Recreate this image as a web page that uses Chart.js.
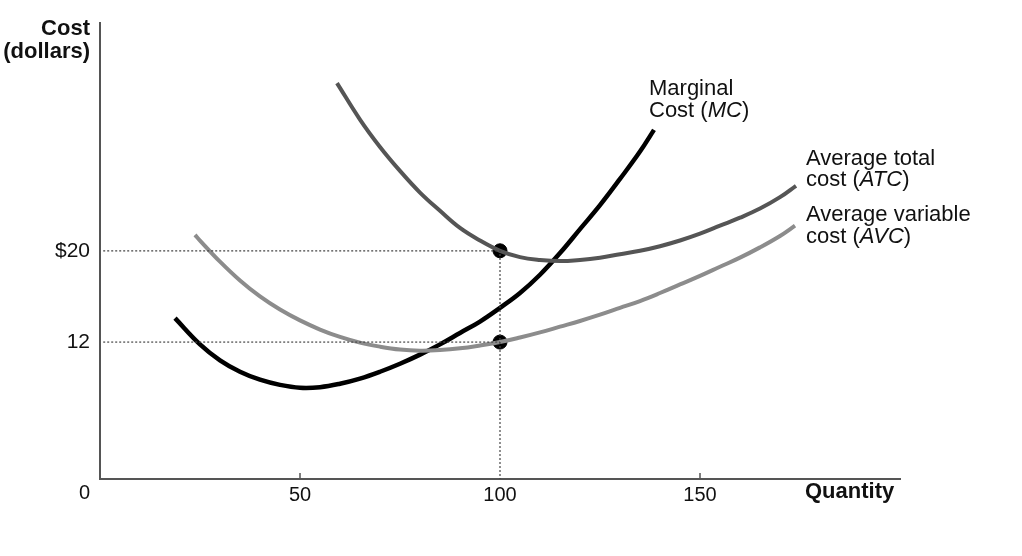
<!DOCTYPE html>
<html>
<head>
<meta charset="utf-8">
<script src="https://cdn.jsdelivr.net/npm/chart.js@4"></script>
<style>
  html, body { margin: 0; padding: 0; background: #fff; }
  #wrap { width: 1022px; height: 556px; }
</style>
</head>
<body>
<div id="wrap"><canvas id="costChart"></canvas></div>
<script>
// Cost curves (quantity, dollars)
const mcQuantity  = [18.75, 25, 30, 35, 40, 45, 50, 55, 60, 65, 70, 75, 80, 85, 90, 95, 100, 105, 110, 115, 120, 125, 130, 135, 138.5];
const mcCost      = [14.1, 11.8, 10.4, 9.4, 8.7, 8.25, 8.0, 8.05, 8.35, 8.8, 9.4, 10.1, 10.9, 11.8, 12.8, 13.8, 15.0, 16.3, 17.9, 19.8, 21.9, 24.0, 26.3, 28.7, 30.6];

const atcQuantity = [59.25, 65, 70, 75, 80, 85, 90, 95, 100, 105, 110, 115, 120, 125, 130, 135, 140, 145, 150, 155, 160, 165, 170, 174];
const atcCost     = [34.7, 31.5, 29.1, 27.0, 25.1, 23.5, 22.0, 20.9, 20.0, 19.45, 19.2, 19.1, 19.2, 19.4, 19.7, 20.0, 20.4, 20.9, 21.5, 22.2, 22.9, 23.7, 24.7, 25.7];

const avcQuantity = [23.75, 25, 30, 35, 40, 45, 50, 55, 60, 65, 70, 75, 80, 85, 90, 95, 100, 105, 110, 115, 120, 125, 130, 135, 140, 145, 150, 155, 160, 165, 170, 173.75];
const avcCost     = [21.4, 20.9, 19.05, 17.4, 16.0, 14.85, 13.9, 13.1, 12.45, 11.95, 11.6, 11.35, 11.25, 11.3, 11.45, 11.7, 12.0, 12.4, 12.85, 13.35, 13.85, 14.4, 15.0, 15.6, 16.3, 17.05, 17.8, 18.6, 19.4, 20.3, 21.3, 22.2];

const xTicks = [50, 100, 150];
const yTicks = [12, 20];
const marked = [[100, 20], [100, 12]];

const FONT = '"Liberation Sans", Arial, Helvetica, sans-serif';
const toPoints = (xs, ys) => xs.map((x, i) => ({ x: x, y: ys[i] }));

// axis titles, curve labels, the corner "0" and the small inside tick marks
const annotations = {
    id: 'annotations',
    afterDraw(chart) {
        const ctx = chart.ctx;
        const xs = chart.scales.x, ys = chart.scales.y;
        ctx.save();
        ctx.fillStyle = '#111';
        ctx.textBaseline = 'alphabetic';

        // tick marks pointing up from the x axis
        ctx.strokeStyle = '#555';
        ctx.lineWidth = 1.5;
        [50, 150].forEach(v => {
            const px = xs.getPixelForValue(v);
            ctx.beginPath();
            ctx.moveTo(px, ys.bottom);
            ctx.lineTo(px, ys.bottom - 6);
            ctx.stroke();
        });

        ctx.font = '20px ' + FONT;
        ctx.textAlign = 'right';
        ctx.fillText('0', 90, 499);

        ctx.font = 'bold 22px ' + FONT;
        ctx.fillText('Cost', 90, 35);
        ctx.fillText('(dollars)', 90, 58);
        ctx.textAlign = 'left';
        ctx.fillText('Quantity', 805, 498);

        // mixed normal / italic label lines
        const line = (parts, x, y) => {
            parts.forEach(p => {
                ctx.font = (p[1] ? 'italic ' : '') + '22px ' + FONT;
                ctx.fillText(p[0], x, y);
                x += ctx.measureText(p[0]).width;
            });
        };
        line([['Marginal']], 649, 95);
        line([['Cost ('], ['MC', true], [')']], 649, 117);
        line([['Average total']], 806, 165);
        line([['cost ('], ['ATC', true], [')']], 806, 186);
        line([['Average variable']], 806, 221);
        line([['cost ('], ['AVC', true], [')']], 806, 243);
        ctx.restore();
    }
};

new Chart(document.getElementById('costChart'), {
    type: 'line',
    data: {
        datasets: [
            {
                label: 'guide 20',
                data: [{ x: 0.8, y: 20 }, { x: 100, y: 20 }, { x: 100, y: 0 }],
                borderColor: '#444',
                borderWidth: 1.2,
                borderDash: [2, 2],
                pointRadius: 0,
                tension: 0
            },
            {
                label: 'guide 12',
                data: [{ x: 0.8, y: 12 }, { x: 100, y: 12 }],
                borderColor: '#444',
                borderWidth: 1.2,
                borderDash: [2, 2],
                pointRadius: 0,
                tension: 0
            },
            {
                label: 'AVC',
                data: toPoints(avcQuantity, avcCost),
                borderColor: '#8c8c8c',
                borderWidth: 4,
                pointRadius: 0,
                tension: 0.4
            },
            {
                label: 'ATC',
                data: toPoints(atcQuantity, atcCost),
                borderColor: '#555',
                borderWidth: 4,
                pointRadius: 0,
                tension: 0.4
            },
            {
                label: 'MC',
                data: toPoints(mcQuantity, mcCost),
                borderColor: '#000',
                borderWidth: 4.5,
                pointRadius: 0,
                tension: 0.4
            },
            {
                label: 'points',
                data: marked.map(p => ({ x: p[0], y: p[1] })),
                showLine: false,
                pointRadius: 7,
                pointBackgroundColor: '#000',
                pointBorderColor: '#000'
            }
        ]
    },
    options: {
        responsive: true,
        maintainAspectRatio: false,
        animation: false,
        layout: { padding: { top: 19, right: 122, left: 0, bottom: 0 } },
        plugins: {
            legend: { display: false },
            tooltip: { enabled: false }
        },
        scales: {
            x: {
                type: 'linear',
                min: 0,
                max: 200,
                afterBuildTicks: s => { s.ticks = xTicks.map(v => ({ value: v })); },
                afterFit: s => { s.height = 77; },
                grid: { display: false, drawTicks: false },
                border: { color: '#555', width: 2 },
                ticks: { color: '#111', padding: 4, font: { family: FONT, size: 20 } }
            },
            y: {
                min: 0,
                max: 40,
                afterBuildTicks: s => { s.ticks = yTicks.map(v => ({ value: v })); },
                afterFit: s => { s.width = 100; },
                grid: { display: false, drawTicks: false },
                border: { color: '#555', width: 2 },
                ticks: {
                    color: '#111',
                    padding: 10,
                    font: { family: FONT, size: 21 },
                    callback: v => v === 20 ? '$' + v : String(v)
                }
            }
        }
    },
    plugins: [annotations]
});
</script>
</body>
</html>
